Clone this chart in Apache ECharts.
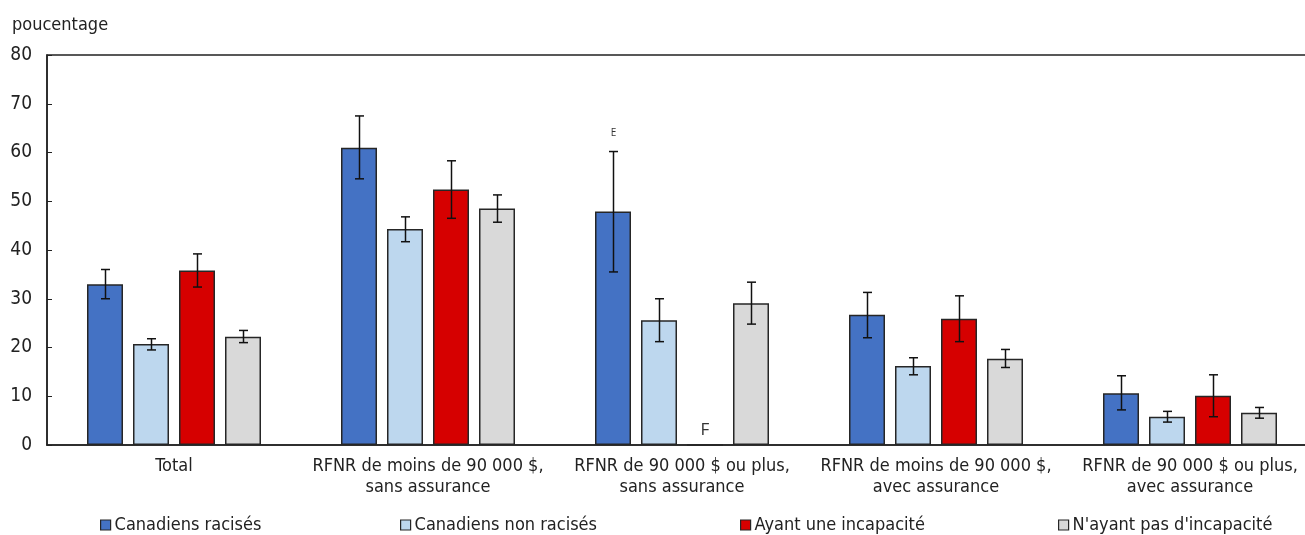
<!DOCTYPE html>
<html>
<head>
<meta charset="utf-8">
<script src="https://cdn.jsdelivr.net/npm/echarts@6/dist/echarts.min.js"></script>
<style>
html,body{margin:0;padding:0;background:#fff;overflow:hidden;}
#chart{width:1305px;height:535px;}
</style>
</head>
<body>
<div id="chart"></div>
<script>
const categories = [
  'Total',
  'RFNR de moins de 90 000 $,\nsans assurance',
  'RFNR de 90 000 $ ou plus,\nsans assurance',
  'RFNR de moins de 90 000 $,\navec assurance',
  'RFNR de 90 000 $ ou plus,\navec assurance'
];
const seriesNames = ['Canadiens racisés', 'Canadiens non racisés', 'Ayant une incapacité', "N'ayant pas d'incapacité"];

const racises      = [33.0, 61.0, 47.9, 26.7, 10.6];
const racisesLow   = [30.0, 54.6, 35.5, 22.0, 7.2];
const racisesHigh  = [36.0, 67.5, 60.2, 31.3, 14.2];
const racisesFlag  = ['', '', 'E', '', ''];

const nonRacises     = [20.7, 44.3, 25.6, 16.2, 5.8];
const nonRacisesLow  = [19.5, 41.7, 21.2, 14.4, 4.7];
const nonRacisesHigh = [21.8, 46.8, 30.0, 17.9, 6.9];

const incapacite     = [35.8, 52.4, 0, 25.9, 10.1];
const incapaciteLow  = [32.4, 46.5, null, 21.2, 5.8];
const incapaciteHigh = [39.2, 58.3, null, 30.6, 14.4];
const incapaciteFlag = ['', '', 'F', '', ''];

const sansIncap     = [22.2, 48.5, 29.1, 17.7, 6.6];
const sansIncapLow  = [21.0, 45.7, 24.8, 15.9, 5.5];
const sansIncapHigh = [23.5, 51.3, 33.4, 19.6, 7.7];

const yTicks = [0, 10, 20, 30, 40, 50, 60, 70, 80];

const colors = ['#4472C4', '#BDD7EE', '#D60000', '#D9D9D9'];
const FONT = '"Liberation Sans Narrow", "DejaVu Sans Condensed", "Roboto", sans-serif';
const BAR_W = 36, BAR_GAP = 10;

const values = [racises, nonRacises, incapacite, sansIncap];
const lows = [racisesLow, nonRacisesLow, incapaciteLow, sansIncapLow];
const highs = [racisesHigh, nonRacisesHigh, incapaciteHigh, sansIncapHigh];
const flagsTop = [racisesFlag, null, null, null];

const chart = echarts.init(document.getElementById('chart'), null, {renderer: 'canvas'});

const barSeries = values.map((vals, k) => ({
  name: seriesNames[k],
  type: 'bar',
  data: vals.map((v, i) => {
    const d = {value: v};
    if (k === 2 && incapaciteFlag[i]) {
      d.label = {show: true, position: 'top', distance: 6, formatter: incapaciteFlag[i],
        fontFamily: '"Open Sans", sans-serif', fontSize: 17, color: '#333'};
    }
    return d;
  }),
  barWidth: BAR_W,
  barGap: (BAR_GAP / BAR_W * 100) + '%',
  itemStyle: {color: colors[k], borderColor: '#262626', borderWidth: 1.5},
  emphasis: {disabled: true},
  animation: false,
  z: 2
}));

const errSeries = values.map((vals, k) => ({
  name: seriesNames[k] + ' err',
  type: 'custom',
  data: lows[k].map((lo, i) => lo == null ? null : [i, lo, highs[k][i]]).filter(d => d),
  encode: {x: 0, y: [1, 2]},
  z: 5,
  silent: true,
  animation: false,
  renderItem: function (params, api) {
    const i = api.value(0);
    const pLo = api.coord([i, api.value(1)]);
    const pHi = api.coord([i, api.value(2)]);
    const x = Math.round(pLo[0] + (k - 1.5) * (BAR_W + BAR_GAP)) + 0.5;
    const cap = 4.5;
    const style = {stroke: '#111', lineWidth: 1.5, fill: null};
    const children = [
      {type: 'line', shape: {x1: x, y1: pLo[1], x2: x, y2: pHi[1]}, style},
      {type: 'line', shape: {x1: x - cap, y1: pLo[1], x2: x + cap, y2: pLo[1]}, style},
      {type: 'line', shape: {x1: x - cap, y1: pHi[1], x2: x + cap, y2: pHi[1]}, style}
    ];
    const f = flagsTop[k] && flagsTop[k][i];
    if (f) {
      children.push({type: 'text', x: x, y: pHi[1] - 18,
        style: {text: f, fill: '#333', font: '10px "Open Sans", sans-serif', align: 'center', verticalAlign: 'middle'}});
    }
    return {type: 'group', children};
  }
}));

const legendLefts = [100, 400, 740, 1058];
const legends = seriesNames.map((n, k) => ({
  data: [n],
  left: legendLefts[k],
  top: 516,
  itemWidth: 10,
  itemHeight: 10,
  itemGap: 4,
  icon: 'rect',
  selectedMode: false,
  padding: 0,
  textStyle: {fontFamily: FONT, fontSize: 18, color: '#222', padding: [0, 0, 0, -1]},
  itemStyle: {borderColor: '#262626', borderWidth: 1.2}
}));

chart.setOption({
  animation: false,
  backgroundColor: '#fff',
  title: {
    text: 'poucentage', left: 7, top: 11,
    textStyle: {fontFamily: FONT, fontSize: 18, fontWeight: 'normal', color: '#222'}
  },
  legend: legends,
  grid: {left: 47, width: 1270, top: 55, bottom: 90, show: true, borderColor: '#222', borderWidth: 1.5,
    containLabel: false, outerBoundsMode: 'none'},
  xAxis: {
    type: 'category',
    data: categories,
    axisLine: {show: true, lineStyle: {color: '#222', width: 1.5}},
    axisTick: {show: false},
    axisLabel: {fontFamily: FONT, fontSize: 18, color: '#222', lineHeight: 21, margin: 11, interval: 0}
  },
  yAxis: {
    type: 'value',
    min: yTicks[0],
    max: yTicks[yTicks.length - 1],
    interval: yTicks[1] - yTicks[0],
    axisLine: {show: true, lineStyle: {color: '#222', width: 1.5}},
    axisTick: {show: true, inside: true, length: 5, lineStyle: {color: '#222', width: 1}},
    splitLine: {show: false},
    axisLabel: {fontFamily: FONT, fontSize: 19, color: '#222', margin: 15}
  },
  series: barSeries.concat(errSeries)
});
</script>
</body>
</html>
